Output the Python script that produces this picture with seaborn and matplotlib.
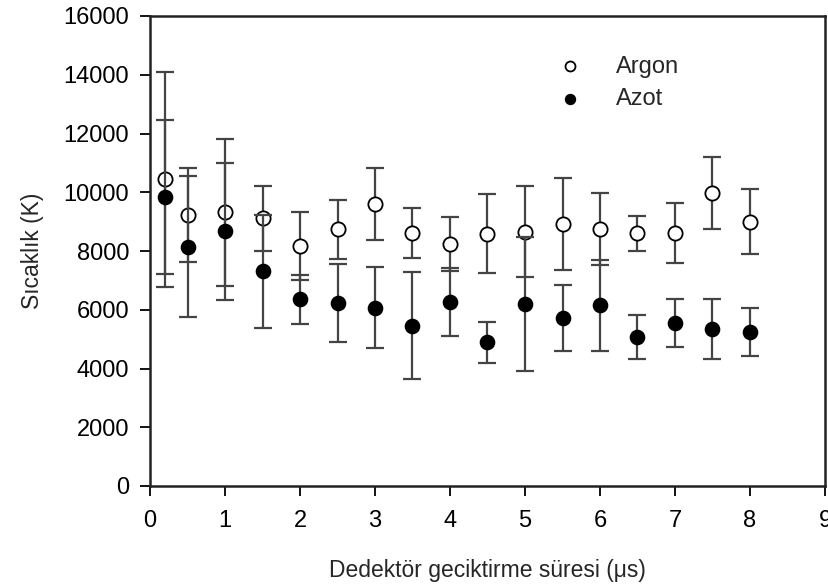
import matplotlib
matplotlib.use("Agg")
import matplotlib.pyplot as plt
import seaborn as sns
import pandas as pd

# Data
x_vals = [0.2, 0.5, 1.0, 1.5, 2.0, 2.5, 3.0, 3.5, 4.0, 4.5, 5.0, 5.5, 6.0, 6.5, 7.0, 7.5, 8.0]
argon = [10440, 9225, 9320, 9110, 8160, 8740, 9600, 8620, 8230, 8590, 8660, 8920, 8750, 8600, 8610, 9970, 9000]
argon_err = [3660, 1590, 2500, 1110, 1160, 1010, 1210, 850, 920, 1350, 1555, 1566, 1215, 585, 1010, 1220, 1095]
azot = [9840, 8140, 8670, 7310, 6365, 6230, 6070, 5460, 6265, 4890, 6195, 5720, 6150, 5070, 5540, 5345, 5230]
azot_err = [2620, 2400, 2335, 1920, 835, 1335, 1370, 1810, 1147, 700, 2280, 1135, 1550, 740, 812, 1025, 820]

x_ticks = list(range(0, 10))
y_ticks = list(range(0, 16001, 2000))

sns.set_style("ticks")
plt.rcParams['font.family'] = ['Liberation Sans', 'DejaVu Sans']

df = pd.DataFrame({
    "x": x_vals * 2,
    "y": argon + azot,
    "gaz": ["Argon"] * len(x_vals) + ["Azot"] * len(x_vals),
})

fig = plt.figure(figsize=(8.29, 5.86), dpi=100)
ax = fig.add_axes([150 / 829, 1 - 486 / 586, 675 / 829, 470 / 586])

err_kw = dict(fmt="none", ecolor="#444444", elinewidth=1.6, capsize=6.5, capthick=1.6)
ax.errorbar(x_vals, argon, yerr=argon_err, zorder=1, **err_kw)
ax.errorbar(x_vals, azot, yerr=azot_err, zorder=2.5, **err_kw)

sns.scatterplot(data=df[df.gaz == "Argon"], x="x", y="y", ax=ax, marker="o", s=105,
                color="white", edgecolor="black", linewidth=1.3, zorder=2, label="Argon")
sns.scatterplot(data=df[df.gaz == "Azot"], x="x", y="y", ax=ax, marker="o", s=105,
                color="black", edgecolor="black", linewidth=1.0, zorder=3, label="Azot")

ax.set_xlim(0, 9)
ax.set_ylim(0, 16000)
ax.set_xticks(x_ticks)
ax.set_yticks(y_ticks)
ax.tick_params(axis="both", direction="out", length=7, width=1.3, labelsize=17, pad=8, colors="black")
ax.tick_params(axis="x", pad=10)
for sp in ax.spines.values():
    sp.set_linewidth(1.8)
    sp.set_color("#222222")

ax.set_xlabel("Dedektör geciktirme süresi (μs)", fontsize=16.5, labelpad=20)
ax.set_ylabel("Sıcaklık (K)", fontsize=16.5, labelpad=14)

leg = ax.legend(loc="upper left", bbox_to_anchor=(0.573, 0.936), frameon=False, fontsize=17,
                handletextpad=0.95, labelspacing=0.45, markerscale=0.7, borderaxespad=0)

fig.savefig("out.png", dpi=100)
